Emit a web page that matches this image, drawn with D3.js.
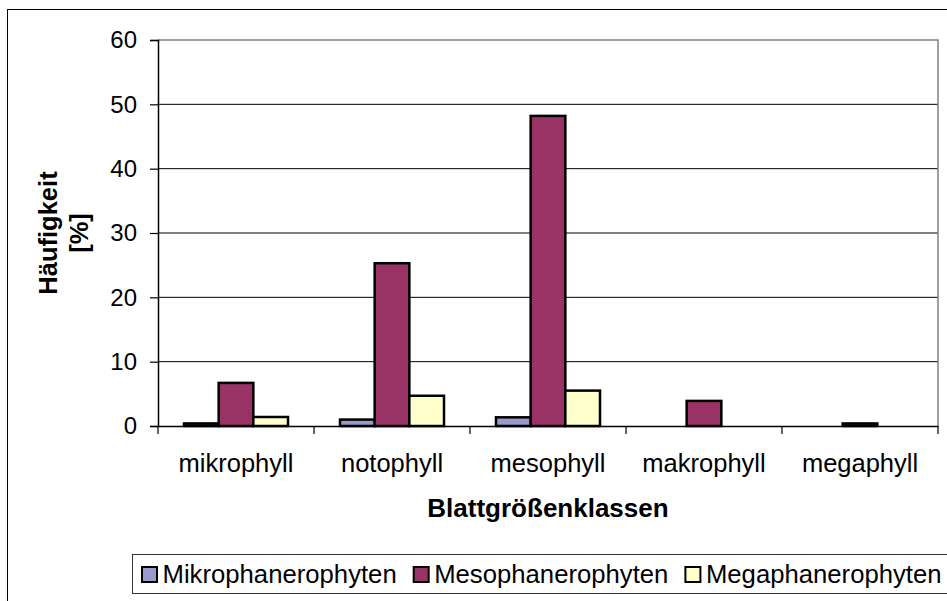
<!DOCTYPE html>
<html>
<head>
<meta charset="utf-8">
<script src="https://cdn.jsdelivr.net/npm/d3@7"></script>
<style>
  html, body { margin: 0; padding: 0; background: #fff; }
  svg { display: block; font-family: "Liberation Sans", Arial, sans-serif; }
</style>
</head>
<body>
<svg id="chart" width="947" height="601"></svg>
<script>
const categories = ["mikrophyll", "notophyll", "mesophyll", "makrophyll", "megaphyll"];
const seriesNames = ["Mikrophanerophyten", "Mesophanerophyten", "Megaphanerophyten"];
const mikroValues = [0.4, 1.0, 1.35, 0, 0];
const mesoValues = [6.7, 25.3, 48.2, 3.9, 0.4];
const megaValues = [1.4, 4.7, 5.5, 0, 0];
const yTicks = [0, 10, 20, 30, 40, 50, 60];
const colors = ["#9999cc", "#993366", "#ffffcc"];
const yTitleLines = ["Häufigkeit", "[%]"];
const xTitle = "Blattgrößenklassen";

const seriesValues = [mikroValues, mesoValues, megaValues];

(function () {
const svg = d3.select("#chart");
const pLeft = 158, pRight = 938, pTop = 40, pBottom = 426;

// outer border
svg.append("rect").attr("x", 7.5).attr("y", 9.5).attr("width", 960).attr("height", 620)
  .attr("fill", "#fff").attr("stroke", "#000").attr("stroke-width", 1);

const x0 = d3.scaleBand().domain(categories).range([pLeft, pRight]).paddingInner(0).paddingOuter(0);
const x1 = d3.scaleBand().domain(seriesNames).range([0, x0.bandwidth()]).paddingInner(0).paddingOuter(0.75);
const y = d3.scaleLinear().domain([0, 60]).range([pBottom, pTop]);

// gridlines
svg.append("g").selectAll("line").data(yTicks.filter(d => d > 0 && d < 60)).join("line")
  .attr("x1", pLeft).attr("x2", pRight).attr("y1", d => y(d)).attr("y2", d => y(d))
  .attr("stroke", "#000").attr("stroke-width", 1);

// plot border top/right (gray)
svg.append("path")
  .attr("d", `M${pLeft},${y(60)}H${pRight}V${pBottom}`)
  .attr("fill", "none").attr("stroke", "#808080").attr("stroke-width", 1.5);

// bars
const barData = [];
categories.forEach((c, i) => {
  seriesNames.forEach((s, j) => {
    barData.push({ c, s, v: seriesValues[j][i], color: colors[j] });
  });
});
svg.append("g").selectAll("rect").data(barData.filter(d => d.v > 0)).join("rect")
  .attr("x", d => x0(d.c) + x1(d.s))
  .attr("width", x1.bandwidth())
  .attr("y", d => y(d.v))
  .attr("height", d => y(0) - y(d.v))
  .attr("fill", d => d.color)
  .attr("stroke", "#000").attr("stroke-width", 2.5);

// y axis
const yAxis = d3.axisLeft(y).tickValues(yTicks).tickSize(8).tickPadding(13);
const gy = svg.append("g").attr("transform", `translate(${pLeft},0)`).call(yAxis);
gy.select(".domain").attr("stroke", "#000").attr("stroke-width", 1.5);
gy.selectAll(".tick line").attr("stroke", "#000").attr("stroke-width", 1.2);
gy.selectAll(".tick text").attr("font-size", 24).attr("fill", "#000")
  .attr("font-family", "'Liberation Sans', Arial, sans-serif");

// x axis
const gx = svg.append("g").attr("transform", `translate(0,${pBottom})`)
  .call(d3.axisBottom(x0).tickSize(0).tickPadding(28));
gx.select(".domain").attr("stroke", "#000").attr("stroke-width", 1.5);
gx.selectAll(".tick text").attr("font-size", 25.5).attr("fill", "#000")
  .attr("font-family", "'Liberation Sans', Arial, sans-serif");
// category separator ticks
const sepTicks = categories.map(c => x0(c)).concat([x0.range()[1]]);
svg.append("g").selectAll("line").data(sepTicks).join("line")
  .attr("x1", d => d).attr("x2", d => d).attr("y1", pBottom).attr("y2", pBottom + 8)
  .attr("stroke", "#000").attr("stroke-width", 1.2);

// y title
const yt = svg.append("text")
  .attr("transform", `translate(57,${(pTop + pBottom) / 2}) rotate(-90)`)
  .attr("text-anchor", "middle").attr("font-weight", "bold").attr("font-size", 25.5).attr("fill", "#000");
yt.selectAll("tspan").data(yTitleLines).join("tspan")
  .attr("x", 0).attr("dy", (d, i) => i === 0 ? 0 : 31).text(d => d);

// x title
svg.append("text").attr("x", (pLeft + pRight) / 2).attr("y", 517)
  .attr("text-anchor", "middle").attr("font-weight", "bold").attr("font-size", 26).attr("fill", "#000")
  .text(xTitle);

// legend
svg.append("rect").attr("x", 132.5).attr("y", 554.5).attr("width", 900).attr("height", 39)
  .attr("fill", "#fff").attr("stroke", "#333").attr("stroke-width", 1);
let lx = 141;
seriesNames.forEach((s, j) => {
  svg.append("rect").attr("x", lx + 1).attr("y", 567).attr("width", 15).attr("height", 15)
    .attr("fill", colors[j]).attr("stroke", "#000").attr("stroke-width", 2);
  const t = svg.append("text").attr("x", lx + 21.5).attr("y", 583)
    .attr("font-size", 25.7).attr("fill", "#000").text(s);
  lx += 21.5 + t.node().getComputedTextLength() + 16;
});
})();
</script>
</body>
</html>
